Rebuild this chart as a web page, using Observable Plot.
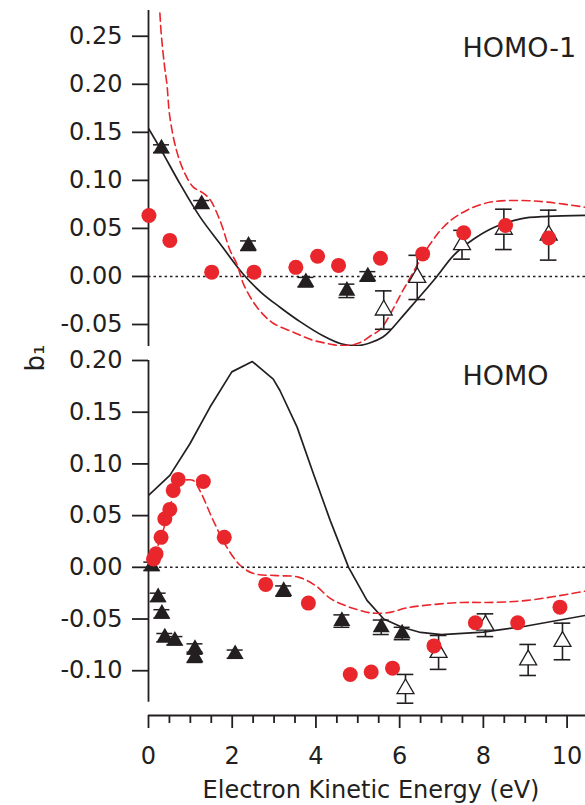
<!DOCTYPE html>
<html>
<head>
<meta charset="utf-8">
<script src="https://cdn.jsdelivr.net/npm/d3@7"></script>
<script src="https://cdn.jsdelivr.net/npm/@observablehq/plot@0.6"></script>
<style>
  body { margin: 0; background: #fff; }
  #chart { width: 585px; height: 805px; overflow: hidden; }
  #chart svg { display: block; }
</style>
</head>
<body>
<div id="chart"></div>
<script>
// ---------- HOMO-1 (upper panel) ----------
const topFilledX = [0.31, 1.27, 2.39, 3.76, 4.74, 5.24];
const topFilledY = [0.133, 0.075, 0.032, -0.006, -0.015, 0.000];
const topFilledErr = [0.004, 0.004, 0.005, 0.005, 0.007, 0.005];

const topHollowX = [5.62, 6.42, 7.49, 8.49, 9.56];
const topHollowY = [-0.035, -0.001, 0.033, 0.049, 0.043];
const topHollowErr = [0.020, 0.023, 0.015, 0.021, 0.026];

const topCircleX = [0.01, 0.51, 1.51, 2.52, 3.52, 4.04, 4.54, 5.54, 6.55, 7.53, 8.53, 9.56];
const topCircleY = [0.0635, 0.0375, 0.0045, 0.0045, 0.0095, 0.021, 0.0115, 0.019, 0.0235, 0.0455, 0.053, 0.040];

const topSolidX = [0, 0.31, 0.75, 1.23, 1.71, 2.27, 2.7, 3.14, 3.62, 4.18, 4.6, 5.0, 5.3, 5.6, 5.78, 6.1, 6.42, 6.89, 7.29, 7.77, 8.25, 8.89, 9.53, 10.44];
const topSolidY = [0.154, 0.131, 0.0966, 0.062, 0.034, 0.002, -0.017, -0.032, -0.047, -0.062, -0.070, -0.072, -0.069, -0.063, -0.056, -0.040, -0.024, 0.0, 0.022, 0.039, 0.051, 0.060, 0.0625, 0.0635];

const topDashX = [0.24, 0.3, 0.38, 0.44, 0.51, 0.67, 0.87, 1.07, 1.3, 1.47, 1.71, 1.95, 2.11, 2.27, 2.51, 2.75, 2.99, 3.46, 3.9, 4.3, 4.6, 4.9, 5.1, 5.3, 5.54, 6.1, 6.7, 7.13, 7.61, 8.17, 8.89, 9.53, 10.44];
const topDashY = [0.30, 0.255, 0.22, 0.2, 0.166, 0.131, 0.107, 0.093, 0.087, 0.08, 0.058, 0.027, 0.013, -0.008, -0.027, -0.040, -0.049, -0.058, -0.066, -0.070, -0.072, -0.071, -0.068, -0.062, -0.055, -0.013, 0.032, 0.055, 0.069, 0.0774, 0.079, 0.0774, 0.072];

const topTicks = [-0.05, 0, 0.05, 0.10, 0.15, 0.20, 0.25];

// ---------- HOMO (lower panel) ----------
const botFilledX = [0.08, 0.23, 0.32, 0.39, 0.63, 1.11, 1.11, 2.07, 3.23, 4.62, 5.56, 6.06];
const botFilledY = [0.001, -0.029, -0.045, -0.068, -0.071, -0.079, -0.087, -0.084, -0.023, -0.052, -0.058, -0.064];
const botFilledErr = [0.004, 0.004, 0.004, 0.004, 0.004, 0.005, 0.005, 0.004, 0.005, 0.006, 0.007, 0.006];

const botHollowX = [6.14, 6.93, 8.05, 9.07, 9.89];
const botHollowY = [-0.1175, -0.0823, -0.056, -0.0896, -0.0717];
const botHollowErr = [0.0139, 0.0164, 0.011, 0.015, 0.0177];

const botCircleX = [0.12, 0.18, 0.30, 0.39, 0.51, 0.59, 0.71, 1.31, 1.81, 2.80, 3.82, 4.82, 5.32, 5.83, 6.82, 7.81, 8.82, 9.83];
const botCircleY = [0.008, 0.013, 0.029, 0.047, 0.056, 0.0744, 0.085, 0.083, 0.029, -0.0165, -0.0346, -0.1036, -0.1013, -0.0975, -0.076, -0.0536, -0.0536, -0.0385];

const botSolidX = [0, 0.51, 0.99, 1.47, 1.99, 2.48, 2.98, 3.14, 3.55, 3.94, 4.34, 4.78, 5.22, 5.62, 6.06, 6.5, 7.0, 8.0, 9.0, 10.44];
const botSolidY = [0.0695, 0.0889, 0.1195, 0.155, 0.189, 0.199, 0.182, 0.171, 0.1356, 0.0905, 0.0454, 0.0, -0.032, -0.050, -0.058, -0.063, -0.065, -0.0627, -0.057, -0.0465];

const botDashX = [0.13, 0.35, 0.51, 0.71, 0.9, 1.07, 1.23, 1.55, 1.87, 2.19, 2.51, 3.07, 3.58, 4.0, 4.34, 4.7, 5.0, 5.3, 5.7, 6.2, 6.8, 7.5, 8.1, 9.05, 10.44];
const botDashY = [0.010, 0.0357, 0.058, 0.0824, 0.0845, 0.084, 0.074, 0.045, 0.0195, 0.002, -0.006, -0.008, -0.0095, -0.018, -0.030, -0.037, -0.041, -0.044, -0.044, -0.039, -0.036, -0.034, -0.034, -0.032, -0.023];

const botTicks = [-0.10, -0.05, 0, 0.05, 0.10, 0.15, 0.20];

// ---------- shared axis settings ----------
const xDomain = [0, 10.44];
const xMajor = [0, 2, 4, 6, 8, 10];
const xMinor = d3.range(0.5, 10.44, 0.5).filter(v => v % 2 !== 0);
const xLabel = "Electron Kinetic Energy (eV)";
const yLabel = "b\u2081";

const ink = "#231f20";
const red = "#e8262b";
const font = "DejaVu Sans";

const rows = (xs, ys, es) => xs.map((x, i) => ({x, y: ys[i], e: es ? es[i] : 0}));
const fmt = d => d.toFixed(2);

function dataMarks(p) {
  return [
    Plot.line(rows(p.solidX, p.solidY), {x: "x", y: "y", stroke: ink, strokeWidth: 1.7, curve: p.solidCurve, clip: true}),
    Plot.line(rows(p.dashX, p.dashY), {x: "x", y: "y", stroke: red, strokeWidth: 1.6, strokeDasharray: "8,4.5", curve: "catmull-rom", clip: true}),
    Plot.ruleY([0], {stroke: ink, strokeWidth: 1.5, strokeDasharray: "2.5,3"}),
    // filled triangles with small error bars
    Plot.ruleX(rows(p.filledX, p.filledY, p.filledErr), {x: "x", y1: d => d.y - d.e, y2: d => d.y + d.e, stroke: ink, strokeWidth: 1.5}),
    Plot.ruleY(rows(p.filledX, p.filledY, p.filledErr), {y: d => d.y + d.e, x1: "x", x2: "x", insetLeft: -8, insetRight: -8, stroke: ink, strokeWidth: 1.5}),
    Plot.ruleY(rows(p.filledX, p.filledY, p.filledErr), {y: d => d.y - d.e, x1: "x", x2: "x", insetLeft: -8, insetRight: -8, stroke: ink, strokeWidth: 1.5}),
    Plot.dot(rows(p.filledX, p.filledY), {x: "x", y: "y", symbol: "triangle", r: 6.3, fill: ink, stroke: null}),
    // open triangles with error bars
    Plot.ruleX(rows(p.hollowX, p.hollowY, p.hollowErr), {x: "x", y1: d => d.y - d.e, y2: d => d.y + d.e, stroke: ink, strokeWidth: 1.6}),
    Plot.ruleY(rows(p.hollowX, p.hollowY, p.hollowErr), {y: d => d.y + d.e, x1: "x", x2: "x", insetLeft: -8.3, insetRight: -8.3, stroke: ink, strokeWidth: 1.6}),
    Plot.ruleY(rows(p.hollowX, p.hollowY, p.hollowErr), {y: d => d.y - d.e, x1: "x", x2: "x", insetLeft: -8.3, insetRight: -8.3, stroke: ink, strokeWidth: 1.6}),
    Plot.dot(rows(p.hollowX, p.hollowY), {x: "x", y: "y", symbol: "triangle", r: 6.3, fill: "white", stroke: ink, strokeWidth: 1.3}),
    // circles
    Plot.dot(rows(p.circleX, p.circleY), {x: "x", y: "y", r: 7.5, fill: red, stroke: null})
  ];
}

const plotStyle = {fontFamily: font, fontSize: "24px", color: ink, background: "white", overflow: "visible"};

// upper panel: HOMO-1
const topDomain = [-0.0729, 0.2768];
const upperPlot = Plot.plot({
  width: 585, height: 350,
  marginLeft: 148, marginRight: 0, marginTop: 10, marginBottom: 4,
  x: {domain: xDomain, axis: null},
  y: {domain: topDomain, label: null},
  style: plotStyle,
  marks: [
    Plot.ruleX([0], {y1: topDomain[0], y2: topDomain[1], stroke: ink, strokeWidth: 1.8}),
    Plot.axisY(topTicks, {tickSize: 16, tickPadding: 10, tickFormat: fmt, fontSize: 24, strokeWidth: 1.8, stroke: ink, label: null}),
    ...dataMarks({
      solidX: topSolidX, solidY: topSolidY, solidCurve: "catmull-rom",
      dashX: topDashX, dashY: topDashY,
      filledX: topFilledX, filledY: topFilledY, filledErr: topFilledErr,
      hollowX: topHollowX, hollowY: topHollowY, hollowErr: topHollowErr,
      circleX: topCircleX, circleY: topCircleY
    }),
    Plot.text(["HOMO-1"], {text: d => d, frameAnchor: "top-left", dx: 314, dy: 27.2, textAnchor: "start", lineAnchor: "top", fontSize: 27, fill: ink})
  ]
});

// lower panel: HOMO
const botAxisSpan = [-0.1304, 0.20];   // extent of the drawn y axis line
const botDomain = [-0.1433, 0.20];     // lower bound sits on the x axis line
const lowerPlot = Plot.plot({
  width: 585, height: 455,
  marginLeft: 148, marginRight: 0, marginTop: 10, marginBottom: 90,
  x: {domain: xDomain, label: null},
  y: {domain: botDomain, label: null},
  style: plotStyle,
  marks: [
    Plot.ruleX([0], {y1: botAxisSpan[0], y2: botAxisSpan[1], stroke: ink, strokeWidth: 1.8}),
    Plot.axisY(botTicks, {tickSize: 16, tickPadding: 10, tickFormat: fmt, fontSize: 24, strokeWidth: 1.8, stroke: ink, label: null}),
    Plot.ruleY([botDomain[0]], {stroke: ink, strokeWidth: 1.8}),
    Plot.axisX(xMajor, {tickSize: 13, tickPadding: 18, tickFormat: d => String(d), fontSize: 24, strokeWidth: 1.8, stroke: ink, label: null}),
    Plot.axisX(xMinor, {tickSize: 8, tickFormat: () => "", strokeWidth: 1.8, stroke: ink, label: null}),
    ...dataMarks({
      solidX: botSolidX, solidY: botSolidY, solidCurve: "linear",
      dashX: botDashX, dashY: botDashY,
      filledX: botFilledX, filledY: botFilledY, filledErr: botFilledErr,
      hollowX: botHollowX, hollowY: botHollowY, hollowErr: botHollowErr,
      circleX: botCircleX, circleY: botCircleY
    }),
    Plot.text(["HOMO"], {text: d => d, frameAnchor: "top-left", dx: 314, dy: 5, textAnchor: "start", lineAnchor: "top", fontSize: 27, fill: ink}),
    Plot.text([xLabel], {text: d => d, frameAnchor: "bottom", dx: 4, dy: 82, fontSize: 24, fill: ink}),
    Plot.text([yLabel], {text: d => d, frameAnchor: "top-left", dx: -123.3, dy: 11, rotate: -90, fontSize: 26, fill: ink})
  ]
});

const chart = document.getElementById("chart");
chart.appendChild(upperPlot);
chart.appendChild(lowerPlot);
</script>
</body>
</html>
